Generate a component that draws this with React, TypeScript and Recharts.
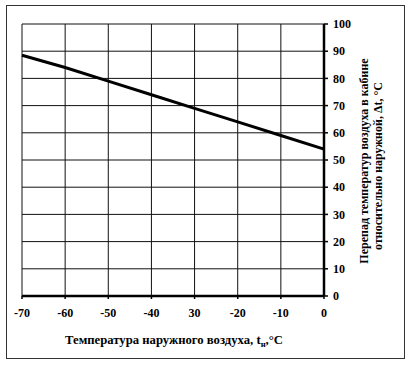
import React from "react";
import { LineChart, Line, XAxis, YAxis, CartesianGrid, Label } from "recharts";

const outsideTemp = [-70, -60, -50, -40, -30, -20, -10, 0];
const deltaT = [88.5, 84, 79, 74, 69, 64, 59, 54];
const xTickLabels = ["-70", "-60", "-50", "-40", "30", "-20", "-10", "0"];
const yTicks = [0, 10, 20, 30, 40, 50, 60, 70, 80, 90, 100];

const data = outsideTemp.map((t, i) => ({ t, dt: deltaT[i] }));

const font = "'Liberation Serif', 'Times New Roman', serif";

export default function App() {
  return (
    <div style={{ position: "absolute", left: 0, top: 0, width: 410, height: 366, background: "#fff" }}>
      <div
        style={{
          position: "absolute",
          left: 6,
          top: 5,
          width: 397,
          height: 352,
          border: "1px solid #333",
        }}
      />
      <LineChart
        width={410}
        height={366}
        data={data}
        margin={{ top: 24, left: 22, right: 26, bottom: 50 }}
        style={{ position: "absolute", left: 0, top: 0 }}
      >
        <CartesianGrid stroke="#111" strokeWidth={1} strokeDasharray="" />
        <XAxis
          dataKey="t"
          type="number"
          domain={[-70, 0]}
          ticks={outsideTemp}
          tickFormatter={(v: number) => xTickLabels[outsideTemp.indexOf(v)] ?? String(v)}
          height={20}
          axisLine={{ stroke: "#000", strokeWidth: 2.5 }}
          tickLine={{ stroke: "#000", strokeWidth: 1.5 }}
          tickSize={3}
          tickMargin={9}
          tick={{ fill: "#000", fontFamily: font, fontWeight: "bold", fontSize: 12 }}
          interval={0}
        >
          <Label
            content={() => (
              <text x={174} y={344} textAnchor="middle" fontFamily={font} fontWeight="bold" fontSize={12.7} fill="#000">
                Температура наружного воздуха, t
                <tspan fontSize={8.5} dy={3}>н</tspan>
                <tspan dy={-3}>,°C</tspan>
              </text>
            )}
          />
        </XAxis>
        <YAxis
          orientation="right"
          type="number"
          domain={[0, 100]}
          ticks={yTicks}
          width={60}
          axisLine={{ stroke: "#000", strokeWidth: 2.5 }}
          tickLine={{ stroke: "#000", strokeWidth: 1.5 }}
          tickSize={4}
          tickMargin={5}
          tick={{ fill: "#000", fontFamily: font, fontWeight: "bold", fontSize: 12 }}
          interval={0}
        >
          <Label
            content={() => (
              <g fontFamily={font} fontWeight="bold" fontSize={12} fill="#000">
                <text x={368} y={161} textAnchor="middle" transform="rotate(-90 368 161)">
                  Перепад температур воздуха в кабине
                </text>
                <text x={382} y={166} textAnchor="middle" transform="rotate(-90 382 166)">
                  относительно наружной, Δt, °C
                </text>
              </g>
            )}
          />
        </YAxis>
        <Line
          type="linear"
          dataKey="dt"
          stroke="#000"
          strokeWidth={3}
          dot={false}
          isAnimationActive={false}
        />
      </LineChart>
    </div>
  );
}
